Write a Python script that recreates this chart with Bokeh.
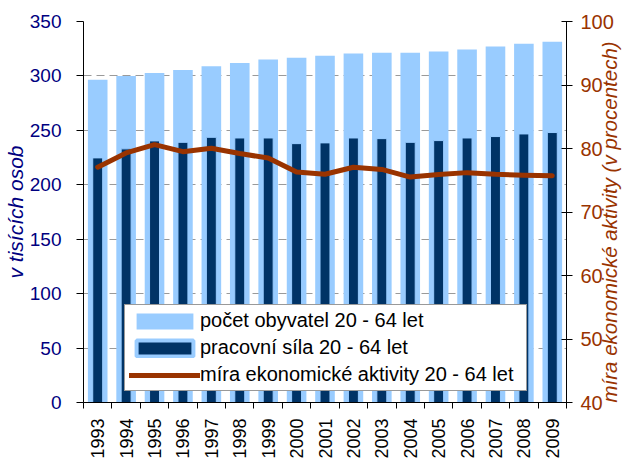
import math
from bokeh.plotting import figure
from bokeh.models import (Range1d, LinearAxis, FixedTicker, SingleIntervalTicker,
                          Legend, LegendItem)
from bokeh.embed import file_html
from bokeh.resources import INLINE

years = [1993, 1994, 1995, 1996, 1997, 1998, 1999, 2000, 2001, 2002,
         2003, 2004, 2005, 2006, 2007, 2008, 2009]
population = [296.6, 300.0, 302.7, 305.4, 309.0, 311.9, 315.0, 316.8, 318.6, 320.5,
              321.4, 321.4, 322.5, 324.2, 327.0, 329.6, 331.5]
labour_force = [224.7, 233.0, 240.3, 239.0, 243.6, 243.0, 243.0, 237.8, 238.5, 243.0,
                242.4, 239.0, 240.6, 243.0, 244.3, 246.7, 248.0]
activity_rate = [77.05, 79.3, 80.6, 79.5, 80.05, 79.2, 78.5, 76.3, 75.95, 77.05,
                 76.7, 75.5, 75.9, 76.2, 75.95, 75.8, 75.7]

left_title = "v tisících osob"
right_title = "míra ekonomické aktivity (v procentech)"
legend_labels = ["počet obyvatel 20 - 64 let", "pracovní síla 20 - 64 let",
                 "míra ekonomické aktivity 20 - 64 let"]

LIGHT = "#99CCFF"
DARK = "#003366"
BROWN = "#993300"
NAVY = "#000080"
FONT = "Liberation Sans"

p = figure(width=635, height=461,
           x_range=Range1d(years[0] - 0.5, years[-1] + 0.5),
           y_range=Range1d(0, 350),
           output_backend="svg", toolbar_location=None,
           min_border_left=81, min_border_right=62,
           min_border_top=21, min_border_bottom=59)
p.extra_y_ranges = {"right": Range1d(40, 100)}
p.outline_line_color = None
p.background_fill_color = "white"
p.border_fill_color = "white"

# grid
p.xgrid.grid_line_color = None
p.ygrid.grid_line_color = "#9a9a9a"
p.ygrid.grid_line_dash = "8 5"
p.ygrid.grid_line_width = 1

# bars
r_pop = p.vbar(x=years, top=population, width=0.69, bottom=0,
               fill_color=LIGHT, line_color=None)
# same bars with a thick light frame: hidden under the real ones, used for the legend swatch
r_lab_leg = p.vbar(x=years, top=labour_force, width=0.35, bottom=0,
                   fill_color=DARK, line_color=LIGHT, line_width=4)
r_lab = p.vbar(x=years, top=labour_force, width=0.35, bottom=0,
               fill_color=DARK, line_color=LIGHT, line_width=1)
r_rate = p.line(years, activity_rate, y_range_name="right",
                line_color=BROWN, line_width=5, line_cap="round", line_join="round")

# x axis
xa = p.xaxis[0]
minor = [y - 0.5 for y in years] + [years[-1] + 0.5]
xa.ticker = FixedTicker(ticks=years, minor_ticks=minor)
xa.major_tick_in = 0
xa.major_tick_out = 0
xa.minor_tick_in = 0
xa.minor_tick_out = 6
xa.minor_tick_line_color = "black"
xa.axis_line_color = "black"
xa.major_label_orientation = math.pi / 2
xa.major_label_text_font = FONT
xa.major_label_text_font_size = "18px"
xa.major_label_text_color = "black"
xa.major_label_standoff = 10

# left axis
ya = p.yaxis[0]
ya.ticker = SingleIntervalTicker(interval=50, num_minor_ticks=0)
ya.major_tick_in = 0
ya.major_tick_out = 7
ya.minor_tick_out = 0
ya.minor_tick_in = 0
ya.axis_line_color = "black"
ya.major_tick_line_color = "black"
ya.major_label_text_font = FONT
ya.major_label_text_font_size = "19px"
ya.major_label_text_color = NAVY
ya.major_label_standoff = 15
ya.axis_label = left_title
ya.axis_label_text_font = FONT
ya.axis_label_text_font_style = "italic"
ya.axis_label_text_font_size = "21px"
ya.axis_label_text_color = NAVY
ya.axis_label_standoff = 0

# right axis (line, ticks, labels)
ra = LinearAxis(y_range_name="right",
                ticker=SingleIntervalTicker(interval=10, num_minor_ticks=0))
ra.major_tick_in = 5
ra.major_tick_out = 6
ra.minor_tick_in = 0
ra.minor_tick_out = 0
ra.axis_line_color = "black"
ra.major_tick_line_color = "black"
ra.major_label_text_font = FONT
ra.major_label_text_font_size = "20px"
ra.major_label_text_color = BROWN
ra.major_label_standoff = 8
p.add_layout(ra, "right")

# right axis title (reads bottom-to-top, starting near the bottom of the axis)
rt = LinearAxis(y_range_name="right", ticker=FixedTicker(ticks=[]))
rt.axis_line_color = None
rt.major_tick_line_color = None
rt.minor_tick_line_color = None
rt.major_tick_in = 0
rt.major_tick_out = 0
rt.minor_tick_in = 0
rt.minor_tick_out = 0
rt.major_label_standoff = 0
rt.major_label_text_font_size = "0px"
rt.axis_label = right_title
rt.axis_label_text_font = FONT
rt.axis_label_text_font_style = "italic"
rt.axis_label_text_font_size = "20.5px"
rt.axis_label_text_color = BROWN
rt.axis_label_standoff = -7
rt.axis_label_orientation = math.pi / 2
rt.axis_label_align = "start"
p.add_layout(rt, "right")

legend = Legend(items=[LegendItem(label=legend_labels[0], renderers=[r_pop]),
                       LegendItem(label=legend_labels[1], renderers=[r_lab_leg]),
                       LegendItem(label=legend_labels[2], renderers=[r_rate])],
                location=(41, 11))
legend.label_text_font = FONT
legend.label_text_font_size = "20px"
legend.label_text_color = "black"
legend.glyph_width = 71
legend.glyph_height = 20
legend.label_standoff = 0
legend.label_width = 322
legend.padding = 4
legend.spacing = 4
legend.margin = 0
legend.border_line_color = "#333333"
legend.border_line_width = 1
legend.background_fill_color = "white"
legend.background_fill_alpha = 1
p.add_layout(legend)

open("out.html", "w").write(file_html(p, INLINE))
